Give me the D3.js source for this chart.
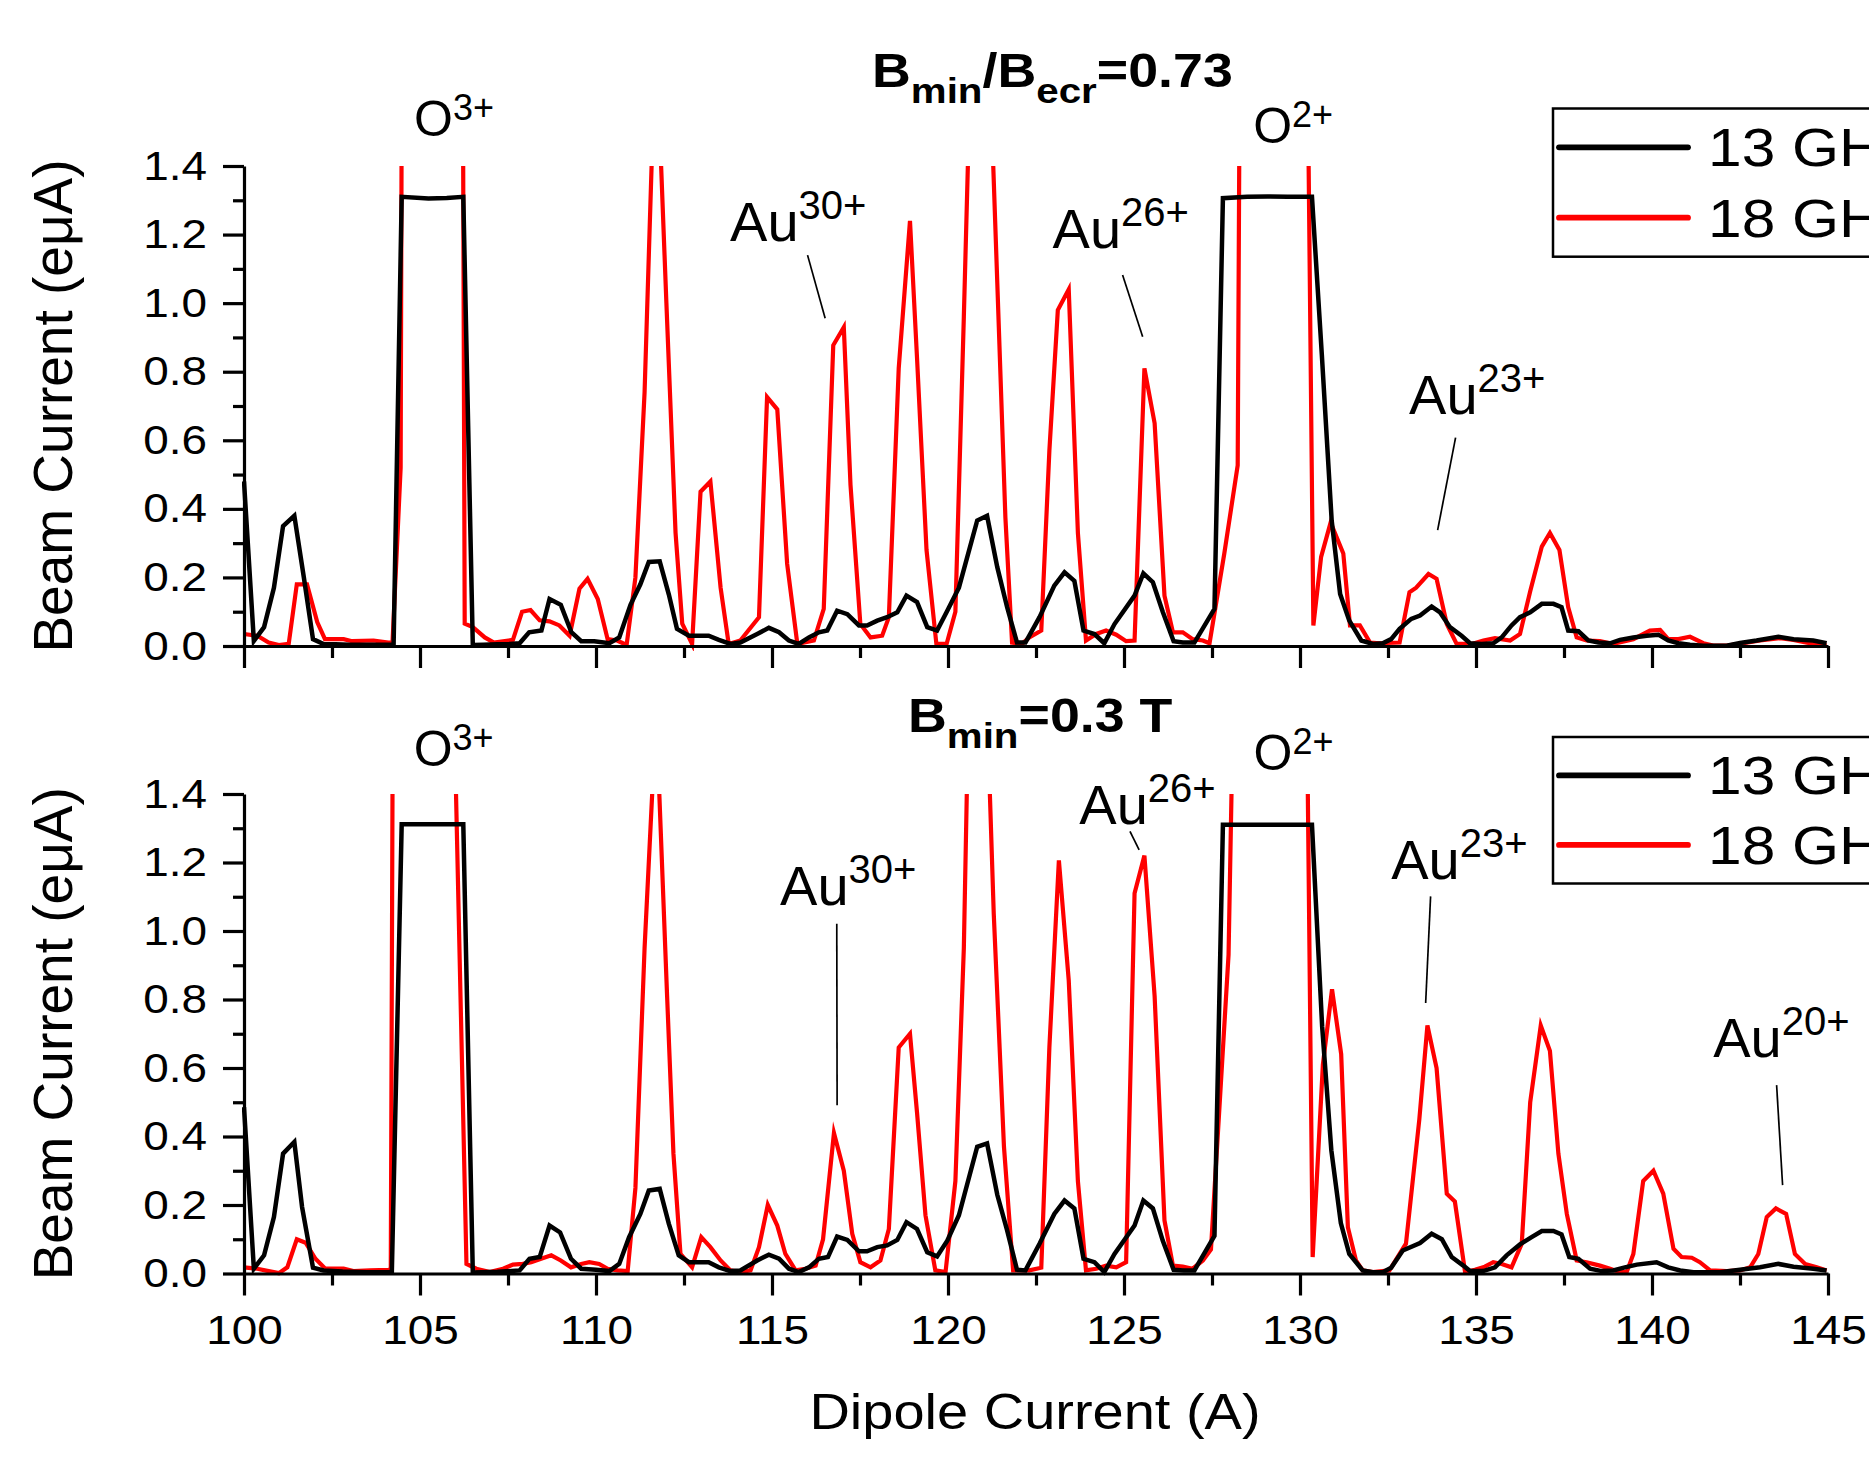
<!DOCTYPE html>
<html>
<head>
<meta charset="utf-8">
<script src="https://cdn.jsdelivr.net/npm/d3@7"></script>
<style>
  html, body { margin: 0; padding: 0; background: #fff; overflow: hidden; }
  svg { display: block; }
  text { font-family: "Liberation Sans", Arial, Helvetica, sans-serif; fill: #000; }
</style>
</head>
<body>
<svg id="chart" width="1869" height="1458"></svg>
<script>
// ---- Data: dipole current (A) vs. beam current (eμA) ----
// Upper panel: Bmin/Becr = 0.73
const topX13 = [100.00,100.28,100.57,100.85,101.11,101.43,101.70,101.96,102.26,102.60,103.00,103.50,104.00,104.25,104.48,105.24,105.76,106.23,106.50,106.80,107.20,107.55,107.83,108.10,108.45,108.68,109.00,109.30,109.58,109.95,110.38,110.66,110.98,111.26,111.50,111.81,112.07,112.30,112.64,113.20,113.49,113.82,114.10,114.58,114.91,115.20,115.48,115.76,116.05,116.33,116.57,116.85,117.14,117.47,117.70,117.99,118.27,118.56,118.82,119.12,119.41,119.69,119.98,120.31,120.83,121.11,121.40,121.68,121.96,122.20,122.60,123.02,123.31,123.59,123.85,124.16,124.44,124.73,125.30,125.55,125.82,126.10,126.41,126.67,127.00,127.57,127.81,128.50,129.08,129.65,130.34,130.62,130.90,131.14,131.40,131.74,132.07,132.35,132.59,132.83,133.16,133.41,133.74,133.98,134.26,134.59,134.83,135.16,135.49,135.73,136.01,136.25,136.54,136.87,137.20,137.43,137.62,137.91,138.19,138.48,138.81,139.09,139.47,139.85,140.18,140.46,140.75,141.08,141.46,142.12,142.50,142.97,143.59,144.02,144.58,144.96];
const top13  = [0.480,0.015,0.055,0.170,0.350,0.380,0.200,0.020,0.006,0.005,0.004,0.004,0.004,0.004,1.310,1.305,1.307,1.310,0.003,0.004,0.005,0.006,0.008,0.040,0.045,0.137,0.120,0.040,0.014,0.014,0.008,0.025,0.120,0.180,0.245,0.247,0.150,0.050,0.030,0.030,0.018,0.006,0.010,0.035,0.053,0.040,0.016,0.006,0.025,0.040,0.045,0.103,0.093,0.060,0.060,0.074,0.084,0.098,0.147,0.128,0.055,0.045,0.103,0.170,0.366,0.380,0.230,0.113,0.010,0.010,0.084,0.176,0.215,0.190,0.045,0.035,0.008,0.064,0.147,0.212,0.186,0.100,0.014,0.010,0.010,0.108,1.306,1.310,1.311,1.310,1.310,0.850,0.366,0.152,0.074,0.016,0.006,0.008,0.020,0.050,0.079,0.089,0.115,0.098,0.055,0.030,0.008,0.006,0.008,0.025,0.060,0.084,0.098,0.123,0.123,0.113,0.045,0.043,0.016,0.010,0.008,0.018,0.025,0.030,0.033,0.016,0.008,0.004,0.001,0.001,0.009,0.016,0.027,0.020,0.016,0.008];

const topX18 = [100.00,100.38,100.70,100.99,101.27,101.50,101.79,102.08,102.30,102.83,103.07,103.68,104.10,104.22,104.45,104.72,105.95,106.27,106.50,106.84,107.10,107.64,107.90,108.14,108.40,108.68,108.96,109.25,109.53,109.76,110.05,110.33,110.60,110.87,111.12,111.38,111.70,112.00,112.26,112.45,112.73,112.97,113.25,113.54,113.77,114.10,114.63,114.86,115.15,115.43,115.72,116.19,116.47,116.74,117.04,117.23,117.51,117.80,118.13,118.32,118.60,118.92,119.12,119.39,119.67,119.96,120.21,120.45,120.72,121.05,121.40,121.63,121.82,122.10,122.31,122.65,122.88,123.12,123.43,123.69,123.92,124.21,124.49,124.78,125.06,125.30,125.58,125.87,126.15,126.39,126.67,126.95,127.24,127.43,127.85,128.23,128.50,129.30,130.10,130.38,130.60,130.87,131.23,131.42,131.70,131.99,132.27,132.83,133.11,133.30,133.65,133.88,134.17,134.45,134.88,135.21,135.54,135.97,136.25,136.54,136.87,137.10,137.37,137.62,137.86,138.14,138.52,138.90,139.47,139.94,140.23,140.46,140.75,141.08,141.46,141.74,142.12,142.60,143.07,143.64,144.02,144.40,144.96];
const top18  = [0.035,0.030,0.010,0.003,0.006,0.180,0.180,0.070,0.020,0.020,0.014,0.016,0.010,0.012,0.520,10.00,10.00,0.065,0.055,0.025,0.010,0.018,0.100,0.105,0.075,0.072,0.060,0.030,0.167,0.196,0.137,0.020,0.016,0.003,0.200,0.740,1.800,1.000,0.330,0.065,0.006,0.450,0.480,0.170,0.006,0.016,0.084,0.726,0.690,0.240,0.006,0.016,0.108,0.877,0.930,0.470,0.064,0.025,0.030,0.084,0.810,1.240,0.840,0.280,0.006,0.006,0.100,0.960,2.000,2.100,1.060,0.376,0.010,0.006,0.025,0.045,0.570,0.980,1.040,0.330,0.016,0.035,0.045,0.033,0.014,0.016,0.810,0.650,0.147,0.040,0.040,0.020,0.016,0.008,0.270,0.527,6.000,6.000,2.850,0.060,0.260,0.360,0.270,0.060,0.060,0.010,0.008,0.010,0.157,0.170,0.210,0.196,0.064,0.006,0.006,0.016,0.023,0.016,0.035,0.160,0.290,0.330,0.280,0.113,0.025,0.016,0.014,0.006,0.020,0.045,0.047,0.020,0.020,0.027,0.008,0.001,0.001,0.008,0.016,0.023,0.018,0.010,0.001];

// Lower panel: Bmin = 0.3 T
const botX13 = [100.00,100.28,100.57,100.85,101.11,101.43,101.65,101.96,102.26,102.80,103.50,104.20,104.48,105.30,106.23,106.50,107.20,107.83,108.11,108.40,108.68,108.98,109.29,109.58,110.00,110.38,110.66,110.94,111.26,111.50,111.81,112.07,112.35,112.64,113.20,113.49,113.82,114.10,114.58,114.91,115.20,115.48,115.76,116.05,116.33,116.59,116.85,117.14,117.47,117.70,117.99,118.27,118.56,118.82,119.12,119.41,119.69,119.98,120.31,120.83,121.11,121.40,121.68,121.96,122.20,122.60,123.02,123.31,123.59,123.85,124.16,124.44,124.73,125.30,125.55,125.82,126.10,126.41,126.70,127.00,127.57,127.81,129.00,130.34,130.63,130.89,131.16,131.40,131.78,132.07,132.35,132.59,132.92,133.41,133.74,134.03,134.31,134.64,134.83,135.20,135.54,135.87,136.25,136.58,136.87,137.20,137.43,137.65,137.91,138.24,138.57,138.90,139.23,139.57,140.13,140.46,140.80,141.18,141.93,142.50,143.07,143.59,144.02,144.58,144.96];
const bot13  = [0.486,0.014,0.053,0.165,0.350,0.384,0.194,0.017,0.009,0.006,0.004,0.004,1.312,1.312,1.312,0.003,0.005,0.009,0.043,0.048,0.140,0.120,0.043,0.014,0.011,0.007,0.028,0.106,0.174,0.242,0.247,0.145,0.053,0.033,0.033,0.018,0.007,0.009,0.038,0.055,0.043,0.014,0.004,0.018,0.043,0.048,0.108,0.098,0.065,0.065,0.077,0.082,0.098,0.150,0.130,0.062,0.050,0.096,0.170,0.370,0.380,0.230,0.126,0.011,0.009,0.087,0.174,0.213,0.190,0.043,0.033,0.004,0.057,0.140,0.213,0.190,0.096,0.011,0.009,0.009,0.110,1.310,1.310,1.310,0.720,0.360,0.147,0.057,0.009,0.004,0.004,0.017,0.067,0.089,0.116,0.100,0.048,0.023,0.007,0.007,0.018,0.053,0.085,0.106,0.124,0.124,0.114,0.048,0.043,0.014,0.007,0.009,0.018,0.026,0.033,0.018,0.009,0.004,0.004,0.011,0.018,0.028,0.020,0.014,0.009];

const botX18 = [100.00,100.38,100.70,100.99,101.23,101.50,101.75,102.03,102.31,102.83,103.11,103.58,104.10,104.17,104.45,105.50,105.98,106.32,106.60,106.98,107.36,107.64,107.92,108.16,108.44,108.73,109.00,109.29,109.58,109.81,110.09,110.33,110.61,110.90,111.12,111.38,111.62,111.78,112.02,112.20,112.40,112.73,112.99,113.25,113.54,113.82,114.10,114.39,114.63,114.88,115.15,115.38,115.67,115.95,116.24,116.45,116.76,117.04,117.28,117.51,117.80,118.08,118.32,118.60,118.92,119.12,119.36,119.64,119.93,120.21,120.45,120.72,121.00,121.30,121.59,121.85,122.31,122.65,122.88,123.15,123.43,123.69,123.92,124.21,124.49,124.78,125.06,125.30,125.58,125.87,126.15,126.39,126.67,126.95,127.24,127.47,127.97,128.25,129.20,130.10,130.36,130.65,130.91,131.17,131.36,131.59,131.78,132.07,132.54,133.01,133.39,133.62,133.88,134.17,134.40,134.69,134.97,135.25,135.49,135.73,136.01,136.30,136.54,136.84,137.10,137.34,137.58,137.86,138.14,138.52,138.81,139.09,139.28,139.47,139.75,140.04,140.32,140.61,140.84,141.13,141.36,141.65,142.12,142.50,142.79,143.02,143.26,143.52,143.81,144.06,144.35,144.68,144.96];
const bot18  = [0.018,0.014,0.007,0.001,0.018,0.100,0.090,0.043,0.014,0.014,0.007,0.009,0.011,0.012,8.000,8.000,1.600,0.028,0.014,0.004,0.014,0.026,0.028,0.033,0.043,0.053,0.038,0.018,0.028,0.033,0.028,0.014,0.009,0.007,0.250,0.950,1.450,1.450,0.810,0.350,0.057,0.018,0.106,0.077,0.038,0.009,0.004,0.009,0.077,0.200,0.140,0.057,0.009,0.014,0.023,0.100,0.410,0.300,0.116,0.033,0.018,0.038,0.130,0.660,0.700,0.470,0.170,0.009,0.004,0.270,0.950,2.400,2.000,1.050,0.370,0.009,0.009,0.017,0.660,1.206,0.856,0.270,0.009,0.014,0.023,0.018,0.033,1.110,1.220,0.810,0.155,0.023,0.020,0.014,0.038,0.070,0.930,2.500,4.000,2.600,0.048,0.610,0.830,0.640,0.135,0.038,0.009,0.004,0.009,0.087,0.450,0.724,0.600,0.233,0.210,0.004,0.011,0.020,0.033,0.028,0.018,0.087,0.500,0.724,0.650,0.350,0.174,0.038,0.033,0.023,0.014,0.004,0.004,0.057,0.270,0.300,0.233,0.072,0.048,0.046,0.033,0.009,0.007,0.009,0.018,0.057,0.165,0.190,0.174,0.057,0.028,0.018,0.009];

// Axis ticks
const xMajorTicks = [100, 105, 110, 115, 120, 125, 130, 135, 140, 145];
const xMinorTicks = [102.5, 107.5, 112.5, 117.5, 122.5, 127.5, 132.5, 137.5, 142.5];
const yMajorTicks = [0, 0.2, 0.4, 0.6, 0.8, 1.0, 1.2, 1.4];
const yMinorTicks = [0.1, 0.3, 0.5, 0.7, 0.9, 1.1, 1.3];

const seriesNames = ["13 GHz", "18 GHz"];
const seriesColors = ["#000000", "#ff0000"];

// Peak labels: [x (A), y (eμA), base, superscript]
const topLabels = [
  [104.83, 1.487, "O", "3+"],
  [113.81, 1.182, "Au", "30+"],
  [122.97, 1.160, "Au", "26+"],
  [128.67, 1.467, "O", "2+"],
  [133.10, 0.676, "Au", "23+"]
];
const botLabels = [
  [104.82, 1.482, "O", "3+"],
  [115.23, 1.077, "Au", "30+"],
  [123.73, 1.313, "Au", "26+"],
  [128.68, 1.470, "O", "2+"],
  [132.59, 1.152, "Au", "23+"],
  [141.74, 0.6325, "Au", "20+"]
];
// Leader lines: [x1, y1, x2, y2] in data units
const topLeaders = [
  [116.01, 1.140, 116.51, 0.956],
  [124.96, 1.082, 125.53, 0.902],
  [134.42, 0.608, 133.91, 0.338]
];
const botLeaders = [
  [116.84, 1.021, 116.85, 0.491],
  [125.17, 1.291, 125.43, 1.237],
  [133.71, 1.101, 133.57, 0.790],
  [143.54, 0.550, 143.71, 0.258]
];

// ---- Layout ----
const SX = 1.12;            // horizontal stretch of the lettering
const plotLeft = 244, plotRight = 1828;
const panels = [
  { top: 166, bottom: 646, x13: topX13, y13: top13, x18: topX18, y18: top18,
    labels: topLabels, leaders: topLeaders, showXLabels: false,
    legendTop: 108.5, legendBottom: 256.7,
    title: [["B","n"],["min","sub"],["/B","n"],["ecr","sub"],["=0.73","n"]], titleX: 872, titleY: 87 },
  { top: 794, bottom: 1273.5, x13: botX13, y13: bot13, x18: botX18, y18: bot18,
    labels: botLabels, leaders: botLeaders, showXLabels: true,
    legendTop: 737, legendBottom: 883.5,
    title: [["B","n"],["min","sub"],["=0.3 T","n"]], titleX: 908, titleY: 732 }
];

const svg = d3.select("#chart");
svg.append("rect").attr("width", 1869).attr("height", 1458).attr("fill", "#fff");

const x = d3.scaleLinear().domain([100, 145]).range([plotLeft, plotRight]);

function stretchedText(parent, px, py, opts) {
  const g = parent.append("g").attr("transform", `translate(${px},${py}) scale(${opts.sx || SX},1)`);
  return g.append("text")
    .attr("font-size", opts.size)
    .attr("font-weight", opts.weight || "normal")
    .attr("text-anchor", opts.anchor || "start");
}

panels.forEach((p, i) => {
  const y = d3.scaleLinear().domain([0, 1.4]).range([p.bottom, p.top]);
  const g = svg.append("g");

  const clipId = "clip" + i;
  svg.append("clipPath").attr("id", clipId)
    .append("rect")
    .attr("x", plotLeft - 2).attr("y", p.top)
    .attr("width", plotRight - plotLeft + 6).attr("height", p.bottom - p.top + 5);

  const line = d3.line().x(d => x(d[0])).y(d => y(d[1]));
  const lines = g.append("g").attr("clip-path", `url(#${clipId})`);
  lines.append("path")
    .datum(p.x18.map((v, k) => [v, p.y18[k]]))
    .attr("d", line).attr("fill", "none")
    .attr("stroke", seriesColors[1]).attr("stroke-width", 4.2)
    .attr("stroke-linejoin", "miter").attr("stroke-miterlimit", 6);
  lines.append("path")
    .datum(p.x13.map((v, k) => [v, p.y13[k]]))
    .attr("d", line).attr("fill", "none")
    .attr("stroke", seriesColors[0]).attr("stroke-width", 4.5)
    .attr("stroke-linejoin", "miter").attr("stroke-miterlimit", 6);

  // Y axis
  const yAx = g.append("g").attr("transform", `translate(${plotLeft},0)`)
    .call(d3.axisLeft(y).tickValues(yMajorTicks).tickSize(21).tickSizeOuter(0)
      .tickPadding(16).tickFormat(d3.format(".1f")));
  g.append("g").attr("transform", `translate(${plotLeft},0)`)
    .call(d3.axisLeft(y).tickValues(yMinorTicks).tickSize(11).tickSizeOuter(0).tickFormat(""))
    .select(".domain").remove();

  // X axis
  const xAx = g.append("g").attr("transform", `translate(0,${p.bottom})`)
    .call(d3.axisBottom(x).tickValues(xMajorTicks).tickSize(22).tickSizeOuter(0)
      .tickPadding(19).tickFormat(p.showXLabels ? d3.format("d") : ""));
  g.append("g").attr("transform", `translate(0,${p.bottom})`)
    .call(d3.axisBottom(x).tickValues(xMinorTicks).tickSize(12).tickSizeOuter(0).tickFormat(""))
    .select(".domain").remove();

  g.selectAll(".domain, .tick line").attr("stroke", "#000").attr("stroke-width", 3.2);
  yAx.selectAll("text").attr("font-size", 41).attr("font-family", null)
    .attr("transform", `scale(${SX},1)`).attr("x", -37 / SX);
  xAx.selectAll("text").attr("font-size", 41).attr("font-family", null)
    .attr("transform", `scale(${SX},1)`);

  // Axis title (vertical)
  g.append("text")
    .attr("transform", `translate(72,${(p.top + p.bottom) / 2}) rotate(-90)`)
    .attr("text-anchor", "middle").attr("font-size", 55)
    .text("Beam Current (e\u03BCA)");

  // Panel title
  const tt = stretchedText(g, p.titleX, p.titleY, { size: 48, weight: "bold" });
  let shifted = false;
  p.title.forEach(([s, kind]) => {
    const ts = tt.append("tspan").text(s);
    if (kind === "sub") { ts.attr("font-size", 36).attr("dy", 16); shifted = true; }
    else if (shifted) { ts.attr("dy", -16); shifted = false; }
  });

  // Peak labels
  p.labels.forEach(([lx, ly, base, sup]) => {
    const isO = base === "O";
    const t = stretchedText(g, x(lx), y(ly), { size: isO ? 50 : 56, sx: 1.0 });
    t.append("tspan").text(base);
    t.append("tspan").text(sup).attr("font-size", isO ? 36 : 40).attr("dy", isO ? -16 : -22);
  });
  p.leaders.forEach(([x1, y1, x2, y2]) => {
    g.append("line")
      .attr("x1", x(x1)).attr("y1", y(y1)).attr("x2", x(x2)).attr("y2", y(y2))
      .attr("stroke", "#000").attr("stroke-width", 1.7);
  });

  // Legend
  const lg = g.append("g");
  lg.append("rect")
    .attr("x", 1553).attr("y", p.legendTop)
    .attr("width", 400).attr("height", p.legendBottom - p.legendTop)
    .attr("fill", "#fff").attr("stroke", "#000").attr("stroke-width", 2.5);
  const rowH = (p.legendBottom - p.legendTop);
  seriesNames.forEach((name, k) => {
    const cy = p.legendTop + rowH * (k === 0 ? 0.262 : 0.737);
    lg.append("line")
      .attr("x1", 1559).attr("x2", 1688).attr("y1", cy).attr("y2", cy)
      .attr("stroke", seriesColors[k]).attr("stroke-width", 5.8).attr("stroke-linecap", "round");
    stretchedText(lg, 1708, cy + 19, { size: 54 }).text(name);
  });
});

// X axis title
stretchedText(svg, 1035, 1429, { size: 50, anchor: "middle" }).text("Dipole Current (A)");
</script>
</body>
</html>
